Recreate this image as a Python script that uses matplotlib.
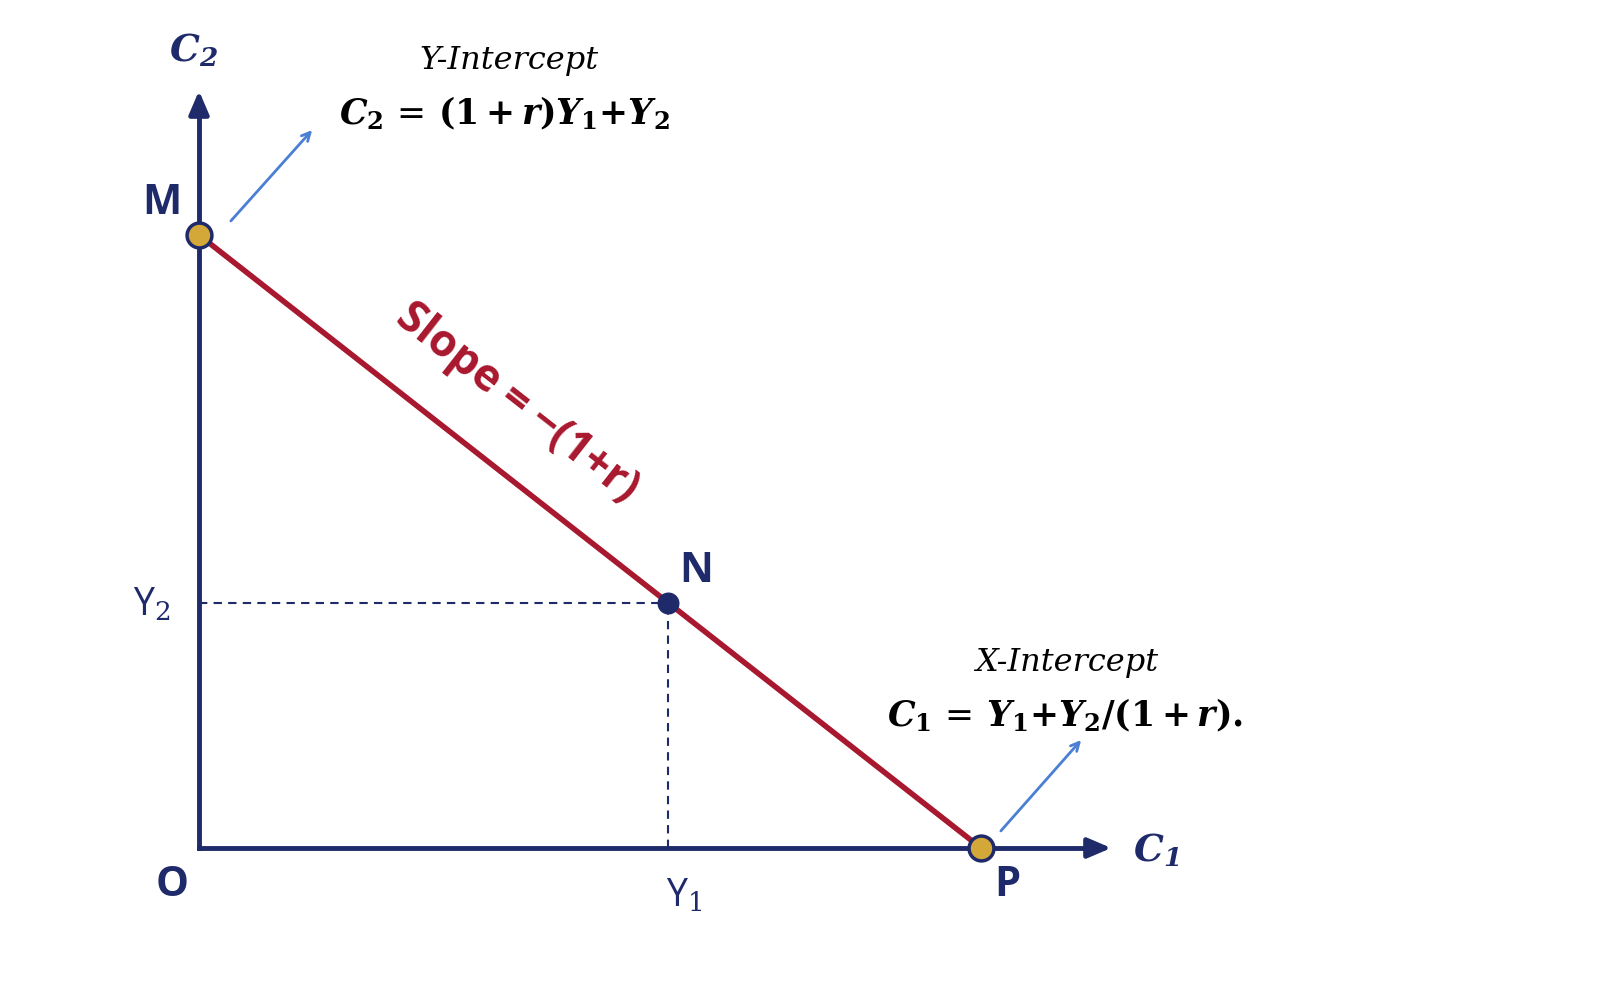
import matplotlib
matplotlib.use("Agg")
import matplotlib.pyplot as plt

# data (diagram units: origin O at 0,0)
point_names = ["M", "N", "P"]
point_x = [0, 469, 782]
point_y = [613, 245, 0]
axis_end_x = 915
axis_end_y = 760

navy = "#1F2A6B"
red = "#A8182E"
gold = "#D4A838"
blue = "#4A7FD4"

plt.rcParams['mathtext.fontset'] = 'dejavuserif'
fig = plt.figure(figsize=(16, 9.83), dpi=100)
ax = fig.add_axes([0, 0, 1, 1])
ax.set_xlim(-199, 1401)
ax.set_ylim(-135, 848)
ax.axis('off')

# axes
ax.plot([0, axis_end_x - 20], [0, 0], color=navy, lw=3.5)
ax.plot([0, 0], [0, axis_end_y - 20], color=navy, lw=3.5)
ax.annotate("", xy=(axis_end_x, 0), xytext=(axis_end_x - 30, 0),
            arrowprops=dict(arrowstyle="-|>,head_length=1.4,head_width=0.6", color=navy, lw=3.5))
ax.annotate("", xy=(0, axis_end_y), xytext=(0, axis_end_y - 30),
            arrowprops=dict(arrowstyle="-|>,head_length=1.4,head_width=0.6", color=navy, lw=3.5))

# budget line
ax.plot([point_x[0], point_x[2]], [point_y[0], point_y[2]], color=red, lw=4, zorder=2)

# dashed guides
ax.plot([0, point_x[1]], [point_y[1], point_y[1]], color=navy, ls=(0, (4, 3)), lw=1.5)
ax.plot([point_x[1], point_x[1]], [0, point_y[1]], color=navy, ls=(0, (4, 3)), lw=1.5)

# points
ax.scatter([point_x[0], point_x[2]], [point_y[0], point_y[2]], s=320, color=gold,
           edgecolor=navy, linewidth=2.5, zorder=5)
ax.scatter([point_x[1]], [point_y[1]], s=220, color=navy, zorder=5)

lab = dict(color=navy, fontweight='bold', fontsize=30, family='Open Sans')
ax.text(-37, 645, "M", ha='center', va='center', **lab)
ax.text(497, 277, "N", ha='center', va='center', **lab)
ax.text(808, -37, "P", ha='center', va='center', **lab)
ax.text(-27, -37, "O", ha='center', va='center', **lab)
ax.text(-47, 243, r"Y$_2$", ha='center', va='center', color=navy, fontsize=27, family='Open Sans')
ax.text(485, -48, r"Y$_1$", ha='center', va='center', color=navy, fontsize=27, family='Open Sans')
ax.text(-5, 798, r"$\mathbfit{C_2}$", ha='center', va='center', color=navy, fontsize=27)
ax.text(957, -2, r"$\mathbfit{C_1}$", ha='center', va='center', color=navy, fontsize=27)

# slope label
ax.text(318, 445, "Slope = \u2212(1+r)", rotation=-38, rotation_mode='anchor',
        ha='center', va='center', color=red, fontsize=32, fontweight='bold', family='Open Sans')

# intercept annotations
ax.text(310, 787, "Y-Intercept", ha='center', va='center', fontsize=23, style='italic', family='DejaVu Serif')
ax.text(305, 735, r"$\mathbfit{C}_\mathbf{2}\, =\, \mathbf{(1+}\mathbfit{r}\mathbf{)}\mathbfit{Y}_\mathbf{1}\mathbf{+}\mathbfit{Y}_\mathbf{2}$",
        ha='center', va='center', fontsize=25)
ax.text(868, 185, "X-Intercept", ha='center', va='center', fontsize=23, style='italic', family='DejaVu Serif')
ax.text(866, 133, r"$\mathbfit{C}_\mathbf{1}\, =\, \mathbfit{Y}_\mathbf{1}\mathbf{+}\mathbfit{Y}_\mathbf{2}\mathbf{/(1+}\mathbfit{r}\mathbf{).}$",
        ha='center', va='center', fontsize=25)

ax.annotate("", xy=(115, 720), xytext=(30, 625),
            arrowprops=dict(arrowstyle="->,head_length=0.6,head_width=0.3", color=blue, lw=2))
ax.annotate("", xy=(884, 110), xytext=(800, 15),
            arrowprops=dict(arrowstyle="->,head_length=0.6,head_width=0.3", color=blue, lw=2))

fig.savefig("out.png", dpi=100, facecolor='white')
